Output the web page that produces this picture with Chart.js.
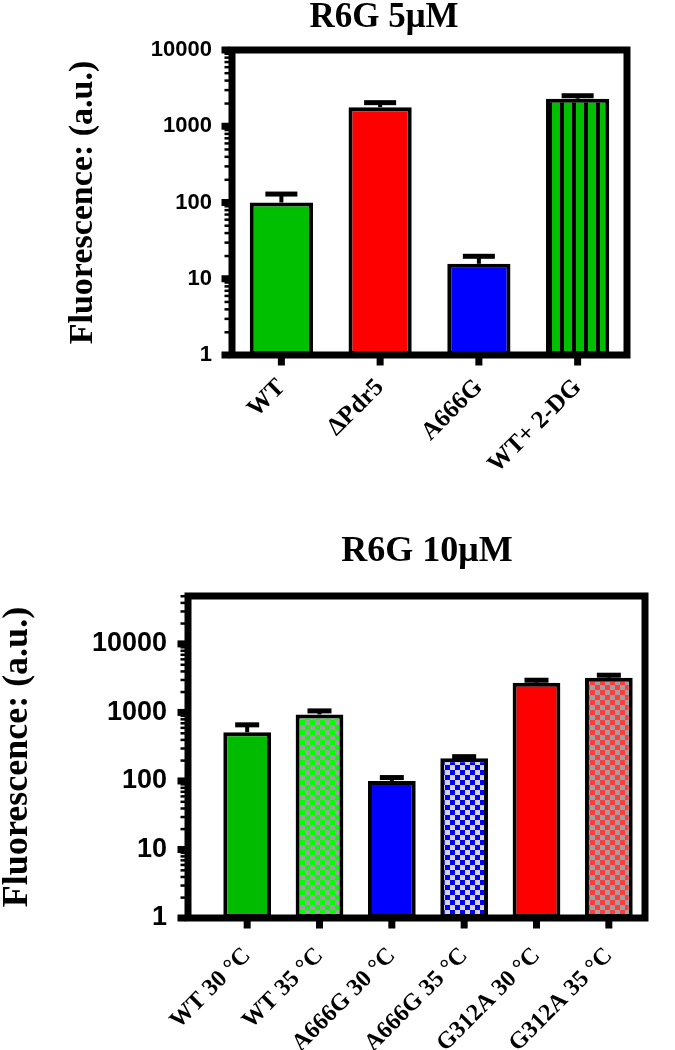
<!doctype html>
<html>
<head>
  <script src="https://cdn.jsdelivr.net/npm/chart.js@4.4.1/dist/chart.umd.min.js"></script>
  <style>
    body { margin: 0; background: #fff; }
    canvas { display: block; }
  </style>
</head>
<body>
  <canvas id="top" width="675" height="520"></canvas>
  <canvas id="bottom" width="675" height="530"></canvas>
  <script>
    // R6G 5 uM
    const labels5 = ['WT', '\u0394Pdr5', 'A666G', 'WT+ 2-DG'];
    const mean5 = [100, 1780, 15.7, 2300];
    const upper5 = [131, 2070, 20, 2550];
    const yTicks5 = [1, 10, 100, 1000, 10000];

    // R6G 10 uM
    const labels10 = ['WT 30 \u00b0C', 'WT 35 \u00b0C', 'A666G 30 \u00b0C', 'A666G 35 \u00b0C', 'G312A 30 \u00b0C', 'G312A 35 \u00b0C'];
    const mean10 = [513, 935, 100, 215, 2720, 3215];
    const upper10 = [670, 1070, 114, 230, 3000, 3550];
    const yTicks10 = [1, 10, 100, 1000, 10000];

    function stripes(bg, fg, w, gap) {
      const c = document.createElement('canvas');
      c.width = w + gap; c.height = 4;
      const x = c.getContext('2d');
      x.fillStyle = bg; x.fillRect(0, 0, w, 4);
      x.fillStyle = fg; x.fillRect(w, 0, gap, 4);
      return x.createPattern(c, 'repeat');
    }
    function checks(a, b, s) {
      const c = document.createElement('canvas');
      c.width = c.height = 2 * s;
      const x = c.getContext('2d');
      x.fillStyle = a; x.fillRect(0, 0, 2 * s, 2 * s);
      x.fillStyle = b; x.fillRect(0, 0, s, s); x.fillRect(s, s, s, s);
      return x.createPattern(c, 'repeat');
    }

    // error caps, axes box, ticks, heading
    const frame = {
      id: 'frame',
      afterDatasetsDraw(chart, args, o) {
        const { ctx, chartArea: a, scales: { x, y } } = chart;
        const lw = 7;
        const ax = a.left - o.gap;
        ctx.save();
        ctx.strokeStyle = '#000';
        ctx.fillStyle = '#000';
        // upper error bars
        const ds = chart.data.datasets[0];
        chart.getDatasetMeta(0).data.forEach((bar, i) => {
          const y0 = y.getPixelForValue(ds.data[i]);
          const y1 = y.getPixelForValue(ds.errorUp[i]);
          ctx.fillRect(bar.x - 2, y1, 4, y0 - y1);
          ctx.fillRect(bar.x - o.cap / 2, y1 - 2, o.cap, 5);
        });
        // minor log ticks
        const max = y.max;
        for (let d = 1; d < max; d *= 10) {
          for (let k = 2; k <= 9; k++) {
            const v = d * k;
            if (v > max) break;
            const py = y.getPixelForValue(v);
            ctx.fillRect(ax - lw / 2 - 4, py - 1, 6, 2.5);
          }
        }
        // major ticks
        o.ticks.forEach(v => {
          const py = y.getPixelForValue(v);
          ctx.fillRect(ax - lw / 2 - 7, py - lw / 2, 8, lw);
        });
        // category ticks
        chart.data.labels.forEach((l, i) => {
          const px = x.getPixelForValue(i);
          ctx.fillRect(px - lw / 2, a.bottom, lw, lw / 2 + 7);
        });
        ctx.lineWidth = lw;
        ctx.lineJoin = 'miter';
        ctx.strokeRect(ax, a.top, a.right - ax, a.bottom - a.top);
        // heading
        ctx.font = 'bold ' + o.size + 'px "Liberation Serif"';
        ctx.textAlign = 'center';
        ctx.textBaseline = 'alphabetic';
        ctx.fillText(o.text, o.x, o.y);
        ctx.restore();
      }
    };

    function build(id, p) {
      return new Chart(document.getElementById(id), {
        type: 'bar',
        plugins: [frame],
        data: {
          labels: p.labels,
          datasets: [{
            data: p.mean,
            errorUp: p.upper,
            backgroundColor: p.colors,
            borderColor: '#000',
            borderWidth: 4,
            borderSkipped: false,
            barPercentage: p.barPct,
            categoryPercentage: 1
          }]
        },
        options: {
          responsive: false,
          animation: false,
          layout: { padding: p.pad },
          plugins: {
            legend: { display: false },
            tooltip: { enabled: false },
            title: { display: false },
            frame: { gap: p.gap, cap: p.cap, ticks: p.yTicks, text: p.title, x: p.titleX, y: p.titleY, size: p.titleSize }
          },
          scales: {
            x: {
              grid: { display: false, drawTicks: false },
              border: { display: false },
              afterFit: s => { s.height = p.xHeight; },
              ticks: {
                color: '#000', autoSkip: false, maxRotation: 45, minRotation: 45, padding: p.xPad,
                font: { family: 'Liberation Serif', weight: 'bold', size: p.xFont }
              }
            },
            y: {
              type: 'logarithmic', min: 1, max: p.yMax,
              afterBuildTicks: s => { s.ticks = p.yTicks.map(v => ({ value: v })); },
              afterFit: s => { s.width = p.yWidth; },
              grid: { display: false, drawTicks: false },
              border: { display: false },
              ticks: {
                color: '#000', autoSkip: false, padding: p.yPad,
                font: { family: 'Liberation Sans', weight: 'bold', size: p.yFont },
                callback: v => String(v)
              },
              title: {
                display: true, text: 'Fluorescence: (a.u.)', color: '#000',
                font: { family: 'Liberation Serif', weight: 'bold', size: p.yTitleSize, lineHeight: 1 },
                padding: { top: p.yTitlePad, bottom: 0 }
              }
            }
          }
        }
      });
    }

    build('top', {
      labels: labels5, mean: mean5, upper: upper5, yTicks: yTicks5, yMax: 10000,
      colors: ['#00BF00', '#FF0000', '#0000FF', stripes('#00BF00', '#000', 8, 4)],
      barPct: 0.64, cap: 32, gap: 0,
      pad: { top: 50, left: 0, right: 48, bottom: 0 },
      xHeight: 165, xPad: 18, xFont: 25, yWidth: 232, yPad: 20, yFont: 22,
      yTitleSize: 34, yTitlePad: 66,
      title: 'R6G 5\u03bcM', titleX: 384, titleY: 27, titleSize: 35
    });

    build('bottom', {
      labels: labels10, mean: mean10, upper: upper10, yTicks: yTicks10, yMax: 50000,
      colors: ['#00BB00', checks('#A0A0A0', '#00FF00', 5), '#0000FF', checks('#D8D8D8', '#0000FF', 5),
               '#FF0000', checks('#A0A0A0', '#FF3B3B', 5)],
      barPct: 0.66, cap: 24, gap: 23,
      pad: { top: 76, left: 0, right: 30, bottom: 0 },
      xHeight: 132, xPad: 24, xFont: 24, yWidth: 211, yPad: 44, yFont: 27,
      yTitleSize: 36, yTitlePad: 0,
      title: 'R6G 10\u03bcM', titleX: 427, titleY: 41, titleSize: 36
    });
  </script>
</body>
</html>
